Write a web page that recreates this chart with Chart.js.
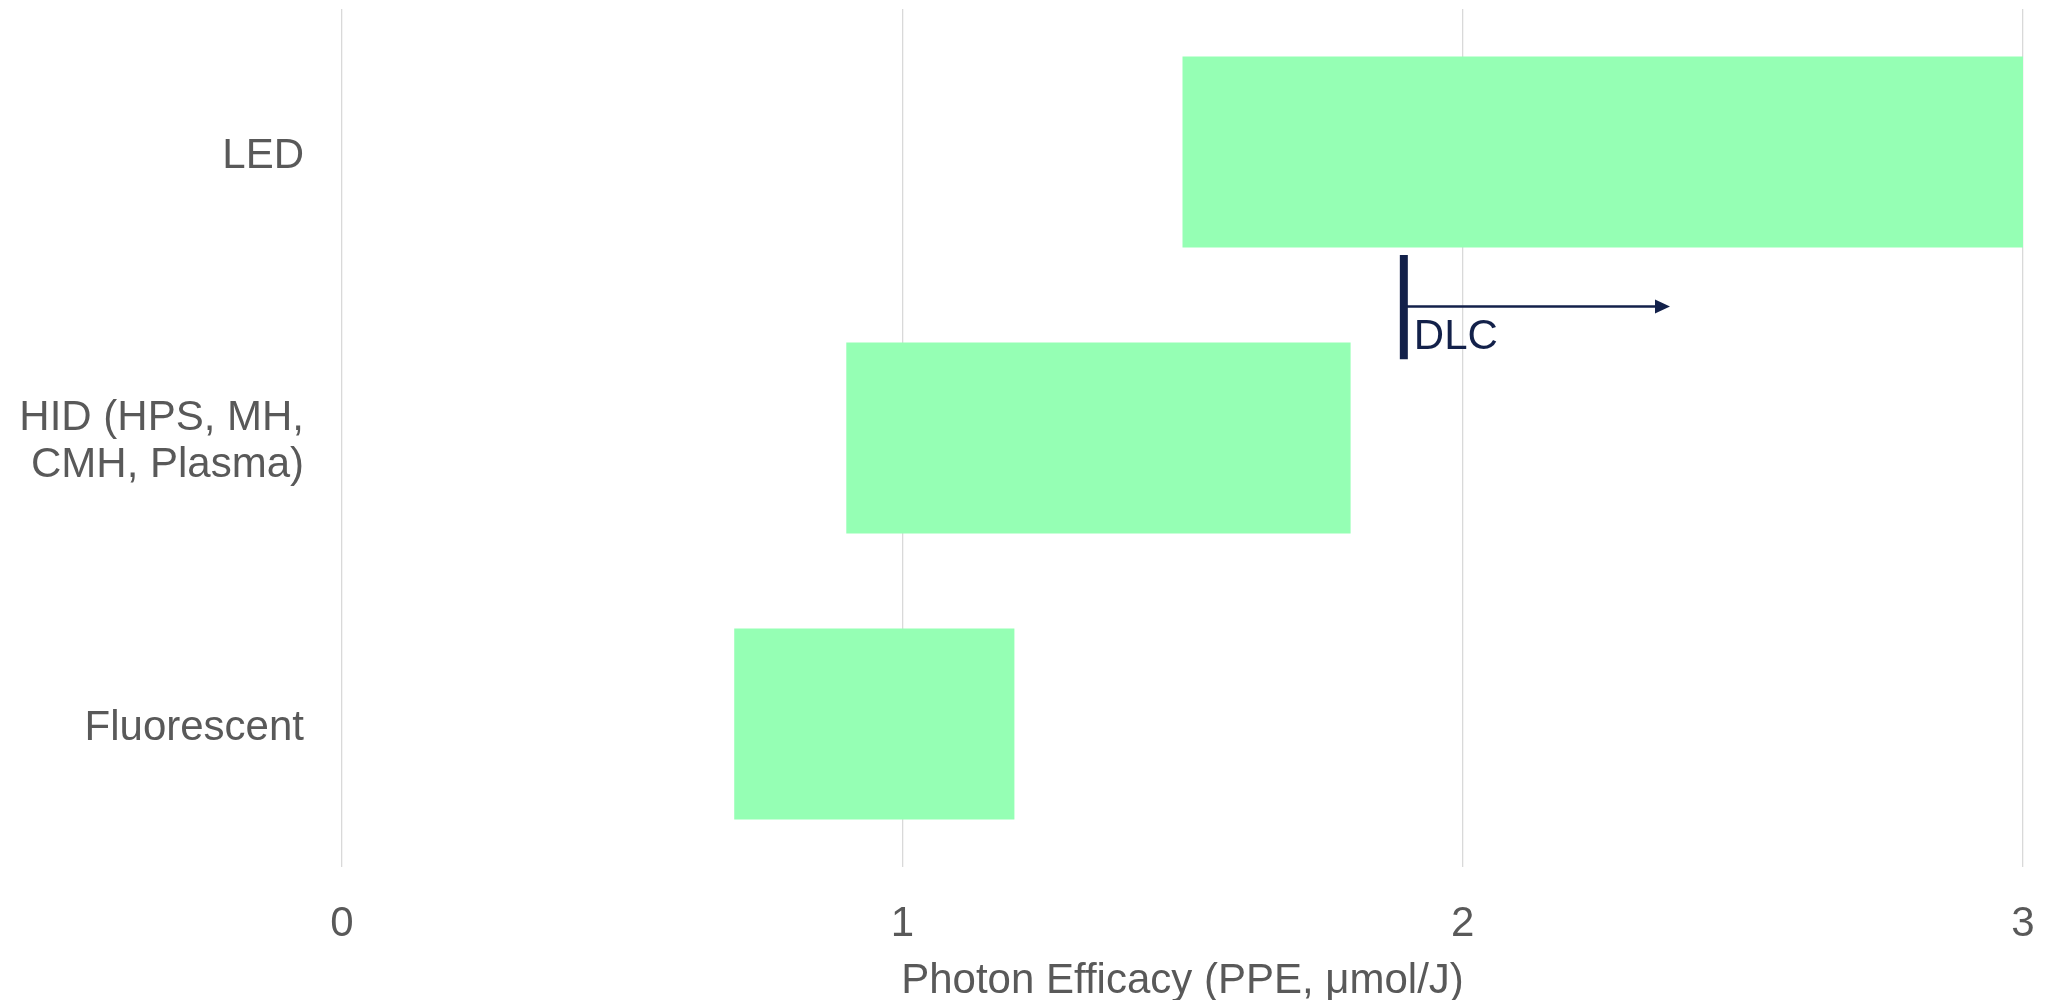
<!DOCTYPE html>
<html>
<head>
<meta charset="utf-8">
<script src="https://cdn.jsdelivr.net/npm/chart.js@4.4.1/dist/chart.umd.min.js"></script>
<style>
  html, body { margin: 0; padding: 0; background: #fff; }
  #wrap { width: 2049px; height: 1000px; }
</style>
</head>
<body>
<div id="wrap"><canvas id="chart"></canvas></div>
<script>
// data
const categories = ['LED', ['HID (HPS, MH,', 'CMH, Plasma)'], 'Fluorescent'];
const rangeStart = [1.5, 0.9, 0.7];
const rangeEnd = [3.0, 1.8, 1.2];
const xTicks = [0, 1, 2, 3];
const dlcValue = 1.895;
const dlcArrowEnd = 2.37;
const dlcLabel = 'DLC';

const textColor = '#595959';
const fontFamily = "'Liberation Sans', Arial, sans-serif";

// DLC marker: vertical bar + arrow, placed between LED and HID rows
const dlcPlugin = {
  id: 'dlcMarker',
  afterDatasetsDraw(chart) {
    const { ctx, scales: { x, y } } = chart;
    const px = x.getPixelForValue(dlcValue);
    const pEnd = x.getPixelForValue(dlcArrowEnd);
    const yTop = y.getPixelForValue(0.36);
    const yBot = y.getPixelForValue(0.725);
    const yArrow = y.getPixelForValue(0.54);
    const yText = y.getPixelForValue(0.69);
    ctx.save();
    ctx.strokeStyle = '#13214a';
    ctx.fillStyle = '#13214a';
    // arrow shaft
    ctx.lineWidth = 2.5;
    ctx.beginPath();
    ctx.moveTo(px, yArrow);
    ctx.lineTo(pEnd - 14, yArrow);
    ctx.stroke();
    // arrow head
    ctx.beginPath();
    ctx.moveTo(pEnd, yArrow);
    ctx.lineTo(pEnd - 15, yArrow - 7);
    ctx.lineTo(pEnd - 15, yArrow + 7);
    ctx.closePath();
    ctx.fill();
    // vertical marker
    ctx.lineWidth = 8;
    ctx.beginPath();
    ctx.moveTo(px, yTop);
    ctx.lineTo(px, yBot);
    ctx.stroke();
    // label
    ctx.font = '42px ' + fontFamily;
    ctx.textAlign = 'left';
    ctx.textBaseline = 'alphabetic';
    ctx.fillText(dlcLabel, px + 10, yText);
    ctx.restore();
  }
};

new Chart(document.getElementById('chart'), {
  type: 'bar',
  data: {
    labels: categories,
    datasets: [{
      data: rangeStart.map((s, i) => [s, rangeEnd[i]]),
      backgroundColor: '#95ffb4',
      borderWidth: 0,
      borderSkipped: false,
      barPercentage: 0.667,
      categoryPercentage: 1.0
    }]
  },
  options: {
    indexAxis: 'y',
    responsive: true,
    maintainAspectRatio: false,
    animation: false,
    layout: { padding: { left: 0, right: 26, top: 9, bottom: 0 } },
    plugins: { legend: { display: false }, tooltip: { enabled: false } },
    scales: {
      x: {
        min: 0,
        max: 3,
        afterBuildTicks: axis => { axis.ticks = xTicks.map(v => ({ value: v })); },
        afterFit: axis => {
          axis.height = 133;
          axis.paddingLeft = 0;
          axis.paddingRight = 0;
        },
        grid: { color: '#d9d9d9', lineWidth: 1.3, drawTicks: false },
        border: { display: false },
        ticks: { color: textColor, padding: 32, font: { family: fontFamily, size: 42, lineHeight: 1.2 } },
        title: {
          display: true,
          text: 'Photon Efficacy (PPE, μmol/J)',
          color: textColor,
          padding: { top: 0, bottom: 0 },
          font: { family: fontFamily, size: 42, lineHeight: 0.9 }
        }
      },
      y: {
        afterFit: axis => {
          axis.width = 342;
          axis.paddingTop = 0;
          axis.paddingBottom = 0;
        },
        grid: { display: false, drawTicks: false },
        border: { display: false },
        ticks: { color: textColor, padding: 38, labelOffset: 4, font: { family: fontFamily, size: 42, lineHeight: 1.12 } }
      }
    }
  },
  plugins: [dlcPlugin]
});
</script>
</body>
</html>
